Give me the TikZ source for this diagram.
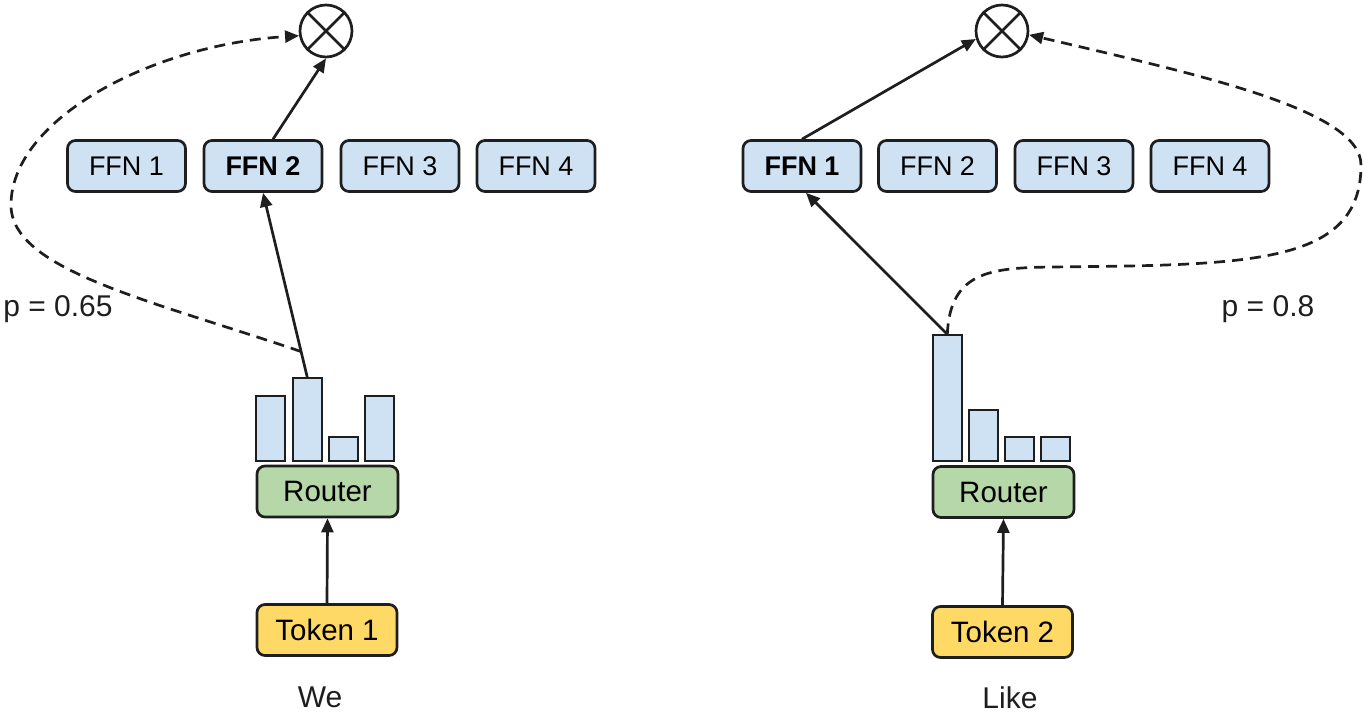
\documentclass[tikz,border=0pt]{standalone}
\usepackage{fontspec}
\setmainfont{Liberation Sans}
\usetikzlibrary{arrows.meta,calc}

\definecolor{ffnblue}{HTML}{CFE2F3}
\definecolor{routergreen}{HTML}{B6D7A8}
\definecolor{tokenyellow}{HTML}{FFD966}
\definecolor{ink}{HTML}{1E1E1E}

\tikzset{
  box/.style={draw=ink, line width=2.7pt, rounded corners=8pt, inner sep=0pt,
              minimum height=51pt, font=\fontsize{27}{32}\selectfont},
  ffn/.style={box, fill=ffnblue, minimum width=118pt},
  router/.style={box, fill=routergreen, minimum width=141pt, font=\fontsize{29.5}{34}\selectfont},
  token/.style={box, fill=tokenyellow, minimum width=140pt, font=\fontsize{29.5}{34}\selectfont},
  bar/.style={draw=ink, line width=1.6pt, fill=ffnblue, inner sep=0pt,
              minimum width=29pt, anchor=south west},
  mult/.style={circle, draw=ink, line width=2.7pt, minimum size=52pt, inner sep=0pt},
  link/.style={draw=ink, line width=2.7pt, -{Triangle[length=14pt,width=12pt]}},
  skip/.style={link, dash pattern=on 11pt off 7pt},
  caption/.style={font=\fontsize{30}{34}\selectfont, text=ink},
}

\begin{document}
\begin{tikzpicture}[x=1pt, y=-1pt]
  \useasboundingbox (0,0) rectangle (1363,714);

  % ---------- first token ----------
  \node[mult] (c1) at (326,31) {};
  \draw[ink, line width=2.7pt] (c1.45) -- (c1.225) (c1.135) -- (c1.-45);

  \node[ffn] (lf1) at (126.5,166) {FFN 1};
  \node[ffn] (lf2) at (263,166) {\textbf{FFN 2}};
  \node[ffn] (lf3) at (400,166) {FFN 3};
  \node[ffn] (lf4) at (536,166) {FFN 4};

  \node[bar, minimum height=65pt] (lb1) at (255,462) {};
  \node[bar, minimum height=83pt] (lb2) at (292,462) {};
  \node[bar, minimum height=24pt] (lb3) at (328,462) {};
  \node[bar, minimum height=65pt] (lb4) at (364,462) {};

  \node[router] (lr) at (327.5,491.5) {Router};
  \node[token] (lt) at (327,630) {Token 1};
  \node[caption] (lw) at (320,697) {We};
  \node[caption] (lp) at (58,309) {p = 0.65};

  \draw[link] (lt.north) -- (lr.south);
  \draw[link] (lb2.north) -- (lf2.south);
  \draw[link] ($(lf2.north)+(10,0)$) -- (c1.south);
  \coordinate (ls) at ($(lb2.north)!0.14!(lf2.south)$);
  \draw[skip] (ls) .. controls (150,300) and (11,270) .. (11,205)
                   .. controls (11,120) and (150,45) .. (c1.190);

  % ---------- second token ----------
  \node[mult] (c2) at (1002,31) {};
  \draw[ink, line width=2.7pt] (c2.45) -- (c2.225) (c2.135) -- (c2.-45);

  \node[ffn] (rf1) at (802,166) {\textbf{FFN 1}};
  \node[ffn] (rf2) at (937.5,166) {FFN 2};
  \node[ffn] (rf3) at (1074,166) {FFN 3};
  \node[ffn] (rf4) at (1210,166) {FFN 4};

  \node[bar, minimum height=126pt] (rb1) at (932,462) {};
  \node[bar, minimum height=51pt] (rb2) at (968,462) {};
  \node[bar, minimum height=24pt] (rb3) at (1004,462) {};
  \node[bar, minimum height=24pt] (rb4) at (1040,462) {};

  \node[router] (rr) at (1003.5,492) {Router};
  \node[token] (rt) at (1002.5,632) {Token 2};
  \node[caption] (rw) at (1010,698) {Like};
  \node[caption] (rp) at (1268,309) {p = 0.8};

  \draw[link] (rt.north) -- (rr.south);
  \draw[link] (rb1.north) -- ($(rf1.south)+(4,0)$);
  \draw[link] (rf1.north) -- (c2.197);
  \draw[skip] (rb1.north) .. controls (950,272) and (990,268) .. (1050,267)
                          .. controls (1250,265) and (1361,265) .. (1361,165)
                          .. controls (1361,110) and (1200,75) .. (c2.-8);
\end{tikzpicture}
\end{document}
